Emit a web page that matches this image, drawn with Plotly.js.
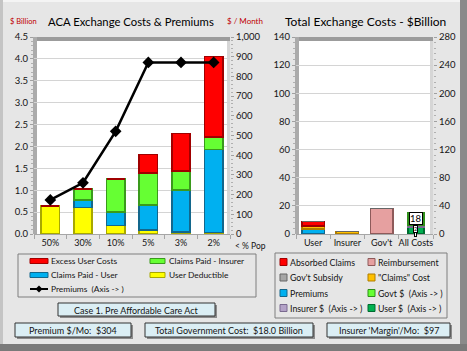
<!DOCTYPE html>
<html><head><meta charset="utf-8">
<script src="https://cdn.plot.ly/plotly-3.0.1.min.js"></script>
<style>html,body{margin:0;padding:0;background:#e6e6e6;overflow:hidden}</style>
</head><body><div id="chart" style="width:467px;height:351px"></div>
<script>
// ---------------- data ----------------
const popCats = ['50%', '30%', '10%', '5%', '3%', '2%'];
const userDeductible    = [0.64, 0.60, 0.19, 0.09, 0.05, 0.03];
const claimsPaidUser    = [0.00, 0.18, 0.31, 0.57, 0.95, 1.90];
const claimsPaidInsurer = [0.00, 0.25, 0.76, 0.73, 0.44, 0.29];
const excessUserCosts   = [0.00, 0.00, 0.00, 0.43, 0.86, 1.83];
const premiumsMonthly   = [173, 260, 521, 871, 871, 871];

const costCats = ['User', 'Insurer', "Gov't", 'All Costs'];
const barCats = ['User', 'Insurer', "Gov't"];
const premiumsCost   = [3.4, 0, 0];
const claimsCost     = [2.4, 1.8, 0];
const absorbedClaims = [3.0, 0, 0];
const reimbursement  = [0, 0, 18];
const govSubsidy     = [0, 0, 0];
const axisCats = ['All Costs'];
const userDollars    = [10];
const insurerDollars = [2];
const govtDollars    = [18];

const leftNames = ['User Deductible', 'Claims Paid - User', 'Claims Paid - Insurer', 'Excess User Costs', 'Premiums\u00a0\u00a0(Axis -> )'];
const rightNames = ['Premiums', '"Claims" Cost', 'Absorbed Claims', 'Reimbursement', "Gov't Subsidy",
                    'User $\u00a0\u00a0(Axis -> )', 'Insurer $\u00a0\u00a0(Axis -> )', 'Govt $\u00a0\u00a0(Axis -> )'];

const boxTexts = ['Case 1. Pre Affordable Care Act', 'Premium $/Mo:\u00a0\u00a0$304',
                  'Total Government Cost:\u00a0\u00a0$18.0 Billion', "Insurer 'Margin'/Mo:\u00a0\u00a0$97"];

// ---------------- styles ----------------
const W = 467, H = 351;
const px = x => x / W, py = y => 1 - y / H;
const FONT = 'Lato, Roboto, "Liberation Sans", sans-serif';
const TXT = '#141414';
const C = {
  yellow: ['#ffff00', '#a8a800'], blue: ['#00b0f0', '#13678c'], green: ['#66ff33', '#3a9a1c'],
  red: ['#ff0000', '#a00000'], gold: ['#ffc000', '#b07e00'], pink: ['#e6a0a0', '#8e5a5a'],
  gray: ['#a6a6a6', '#666666'], lgreen: ['#66ff33', '#2f8f1a'], lav: ['#b3a2c7', '#7a6a90'],
  dgreen: ['#00b050', '#006b30']
};

const traces = [];
const leftSeries = [[userDeductible, C.yellow], [claimsPaidUser, C.blue], [claimsPaidInsurer, C.green], [excessUserCosts, C.red]];
leftSeries.forEach((s, i) => traces.push({
  type: 'bar', x: popCats, y: s[0], name: leftNames[i], xaxis: 'x', yaxis: 'y', width: 0.56,
  marker: {color: s[1][0], line: {color: s[1][1], width: 1.5}}
}));
traces.push({
  type: 'scatter', mode: 'lines+markers', x: popCats, y: premiumsMonthly, name: leftNames[4],
  xaxis: 'x', yaxis: 'y2', line: {color: '#000', width: 2.5}, marker: {symbol: 'diamond', size: 9, color: '#000'}
});
const rightSeries = [[premiumsCost, C.blue], [claimsCost, C.gold], [absorbedClaims, C.red], [reimbursement, C.pink], [govSubsidy, C.gray]];
rightSeries.forEach((s, i) => traces.push({
  type: 'bar', x: barCats, y: s[0], name: rightNames[i], xaxis: 'x2', yaxis: 'y3', width: 0.66,
  marker: {color: s[1][0], line: {color: s[1][1], width: 1.5}}
}));
const axisSeries = [[userDollars, C.dgreen], [insurerDollars, C.lav], [govtDollars, C.lgreen]];
axisSeries.forEach((s, i) => traces.push({
  type: 'bar', x: axisCats, y: s[0], name: rightNames[5 + i], xaxis: 'x2', yaxis: 'y4', width: 0.46,
  marker: {color: s[1][0], line: {color: s[1][1], width: 1.5}}
}));

const tickFont = {family: FONT, size: 9.5, color: TXT};
const yDom = [py(234), py(37)];
const baseY = {domain: yDom, showgrid: true, gridcolor: '#d4d4d4', gridwidth: 1, zeroline: false,
  ticks: 'outside', ticklen: 3, tickcolor: '#a0a0a0', tickfont: tickFont, showline: false, fixedrange: true};
const baseX = {type: 'category', showline: true, linecolor: '#a6a6a6', ticks: 'outside', tickson: 'boundaries',
  ticklen: 4, tickcolor: '#a6a6a6', tickfont: {family: FONT, size: 9, color: TXT}, tickangle: 0, showgrid: false, fixedrange: true};

const shapes = [], annotations = [];
function rect(x0, y0, x1, y1, fill, line, lw, layer) {
  shapes.push({type: 'rect', xref: 'paper', yref: 'paper', x0: px(x0), x1: px(x1), y0: py(y1), y1: py(y0),
    fillcolor: fill, line: {color: line || fill, width: lw === undefined ? 0 : lw}, layer: layer || 'below'});
}
function text(x, y, t, size, color, anchor) {
  annotations.push({xref: 'paper', yref: 'paper', x: px(x), y: py(y), text: t, showarrow: false,
    xanchor: anchor || 'center', yanchor: 'middle', font: {family: FONT, size: size, color: color || TXT}});
}

// outer frame
rect(0, 0, 467, 2, '#f4f4f4');
rect(0, 0, 3, 351, '#c4c4c4');
rect(460, 0, 467, 351, '#8a8a8a');
rect(0, 344, 467, 351, '#7a7a7a');

// 3D walls
rect(33, 37, 230, 41, '#9c9c9c');
rect(33, 37, 37, 234, '#ababab');
rect(227, 41, 230, 234, '#d6d6d6');
rect(295, 37, 433, 41, '#9c9c9c');
rect(295, 37, 299, 234, '#ababab');
rect(430, 41, 433, 234, '#d6d6d6');

// titles
text(23, 21, '$ Billion', 7.5, '#c00000');
text(131, 21, 'ACA Exchange Costs & Premiums', 11.3, '#000');
text(245, 21, '$ / Month', 8, '#c00000');
text(365, 21, 'Total Exchange Costs - $Billion', 12, '#000');
text(233, 246, '< % Pop', 8.5, TXT, 'left');

// left legend
rect(18, 254, 256, 297, 'rgba(0,0,0,0)', '#7f7f7f', 1, 'above');
const leftLeg = [[3, 0, 0], [2, 1, 0], [1, 0, 1], [0, 1, 1], [4, 0, 2]]; // [series, col, row]
const lColX = [30, 150], lSw = [18, 15], lTxtX = [49, 167], lRowY = [261, 275, 289];
leftLeg.forEach(([s, c, r]) => {
  const y = lRowY[r];
  if (s < 4) {
    const col = leftSeries[s][1];
    rect(lColX[c], y - 2.5, lColX[c] + lSw[c], y + 2.5, col[0], col[1], 1, 'above');
  } else {
    shapes.push({type: 'line', xref: 'paper', yref: 'paper', x0: px(lColX[c]), x1: px(lColX[c] + lSw[c]), y0: py(y), y1: py(y), line: {color: '#000', width: 2}});
    const cx = lColX[c] + lSw[c] / 2;
    shapes.push({type: 'path', xref: 'paper', yref: 'paper',
      path: `M${px(cx)},${py(y - 3.5)} L${px(cx + 3.5)},${py(y)} L${px(cx)},${py(y + 3.5)} L${px(cx - 3.5)},${py(y)} Z`,
      fillcolor: '#000', line: {color: '#000', width: 0}});
  }
  text(lTxtX[c], y, leftNames[s], 8.4, TXT, 'left');
});

// right legend
rect(275, 253, 447, 318, 'rgba(0,0,0,0)', '#7f7f7f', 1, 'above');
const rightStyles = [C.blue, C.gold, C.red, C.pink, C.gray, C.dgreen, C.lav, C.lgreen];
const rightLeg = [[2, 0, 0], [3, 1, 0], [4, 0, 1], [1, 1, 1], [0, 0, 2], [7, 1, 2], [6, 0, 3], [5, 1, 3]];
const rColX = [280, 368], rTxtX = [288, 376], rRowY = [262, 277.5, 293, 308];
rightLeg.forEach(([s, c, r]) => {
  const y = rRowY[r], col = rightStyles[s];
  rect(rColX[c], y - 3.5, rColX[c] + 7, y + 3.5, col[0], col[1], 1, 'above');
  text(rTxtX[c], y, rightNames[s], 8.8, TXT, 'left');
});

// info boxes
const boxes = [[58, 303, 215, 316], [15, 323, 131, 337], [145, 323, 313, 337], [327, 323, 450, 337]];
boxes.forEach((b, i) => {
  rect(b[0] + 2, b[1] + 2, b[2] + 2, b[3] + 2, '#8c8c8c', '#8c8c8c', 0, 'above');
  rect(b[0], b[1], b[2], b[3], '#dbeef4', '#333333', 1, 'above');
  text((b[0] + b[2]) / 2, (b[1] + b[3]) / 2 + 0.5, boxTexts[i], 9, TXT);
});

// data labels on All Costs bar
let cum = 0;
const labelShift = [-3, -2.5, 1];
const labelSize = [4, 5.5, 9.5];
axisSeries.forEach((s, i) => {
  const v = s[0][0];
  const mid = cum + v / 2; cum += v;
  annotations.push({xref: 'x2', yref: 'y4', x: axisCats[0], y: mid, text: i === 0 ? '\u00a0' : String(v),
    showarrow: false, bgcolor: '#ffffff', bordercolor: '#000', borderwidth: 1, borderpad: 0, yshift: labelShift[i],
    font: {family: FONT, size: labelSize[i], color: '#000'}});
});

const layout = {
  width: W, height: H, margin: {l: 0, r: 0, t: 0, b: 0}, autosize: false,
  paper_bgcolor: '#e6e6e6', plot_bgcolor: '#ffffff', showlegend: false, barmode: 'stack',
  font: {family: FONT, color: TXT},
  xaxis: Object.assign({}, baseX, {domain: [px(34), px(230)], anchor: 'y', categoryorder: 'array', categoryarray: popCats}),
  yaxis: Object.assign({}, baseY, {range: [0, 4.5], dtick: 0.5, tickformat: '.1f', anchor: 'x',
    minor: {ticks: 'outside', ticklen: 2, dtick: 0.1, tickcolor: '#b0b0b0', showgrid: false}}),
  yaxis2: Object.assign({}, baseY, {overlaying: 'y', side: 'right', anchor: 'x', range: [0, 1000], dtick: 100,
    tickformat: ',d', showgrid: false, minor: {ticks: 'outside', ticklen: 2, dtick: 20, tickcolor: '#b0b0b0', showgrid: false}}),
  xaxis2: Object.assign({}, baseX, {domain: [px(296), px(433)], anchor: 'y3', categoryorder: 'array', categoryarray: costCats}),
  yaxis3: Object.assign({}, baseY, {range: [0, 140], dtick: 20, anchor: 'x2',
    minor: {ticks: 'outside', ticklen: 2, dtick: 4, tickcolor: '#b0b0b0', showgrid: false}}),
  yaxis4: Object.assign({}, baseY, {overlaying: 'y3', side: 'right', anchor: 'x2', range: [0, 280], dtick: 40, showgrid: false,
    minor: {ticks: 'outside', ticklen: 2, dtick: 8, tickcolor: '#b0b0b0', showgrid: false}}),
  shapes: shapes, annotations: annotations
};
Plotly.newPlot('chart', traces, layout, {staticPlot: true, displayModeBar: false});
</script></body></html>
